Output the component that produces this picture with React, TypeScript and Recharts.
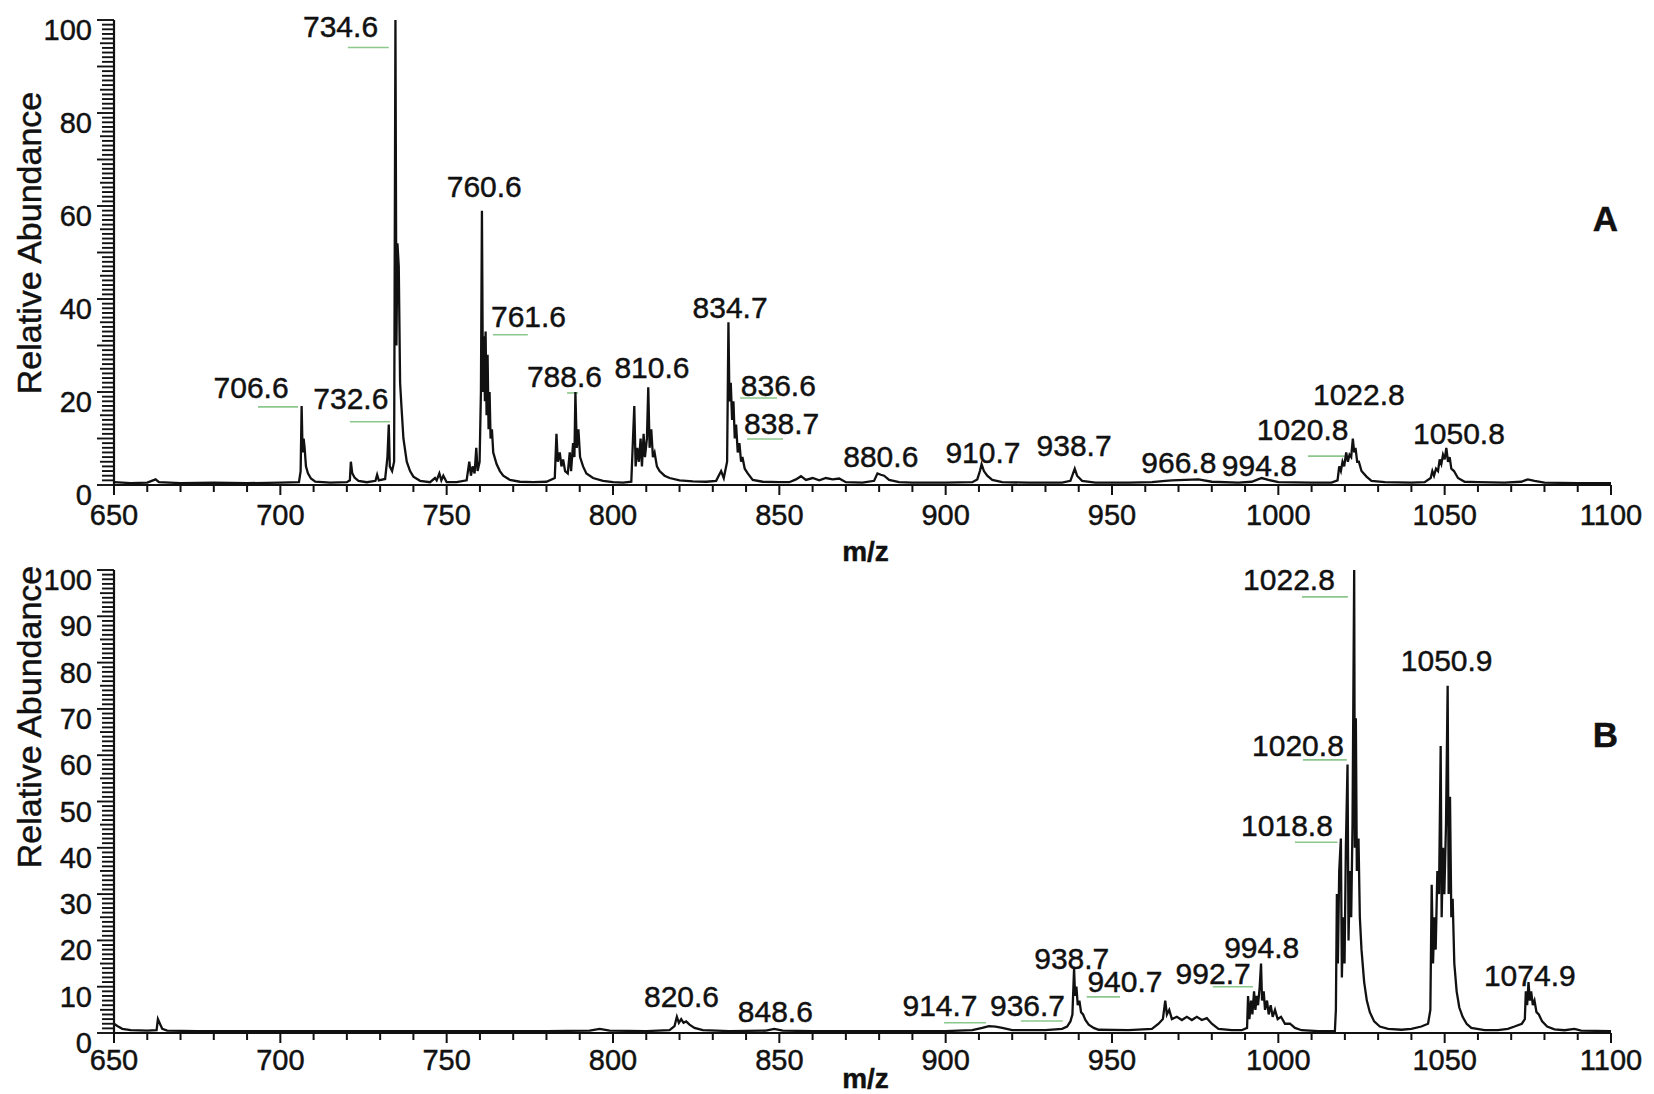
import React from "react";
import { LineChart, Line, XAxis, YAxis, ReferenceDot, ReferenceLine } from "recharts";

const FONT = '"Liberation Sans", Arial, Helvetica, sans-serif';
const INK = "#111";
const LEAD = "#8cc88c";

// profile spectrum, panel A: [m/z, relative abundance]
const spectrumA: [number, number][] = [
  [650, 0.6], [655, 0.4], [660, 0.5], [662.5, 1.2], [663.5, 0.6], [670, 0.4], [680, 0.5], [690, 0.4], [700, 0.5], [705.6, 0.6],
  [706.1, 3], [706.4, 17], [706.7, 7], [707.0, 10], [707.3, 8], [707.7, 4], [708.3, 2.5], [709.2, 1.4], [710.5, 0.7], [715, 0.5], [720, 0.6],
  [720.9, 1], [721.2, 5], [721.6, 2.6], [722.3, 1.6], [723.5, 0.9], [726, 0.6], [728.6, 0.9], [729.1, 2.2], [729.6, 1], [731.5, 1.3],
  [732.2, 6], [732.6, 13], [732.9, 4], [733.6, 3], [734.2, 5], [734.6, 100], [734.9, 30], [735.2, 52], [735.6, 47], [736, 22], [736.4, 17],
  [737, 10], [738, 5], [739, 3], [740, 1.8], [742, 0.9], [745, 0.6], [746.5, 1.5], [747, 1], [747.8, 2.5], [748.4, 1], [749, 2], [750, 0.6],
  [753, 0.6], [756, 1], [756.8, 5], [757.3, 2], [757.8, 4], [758.4, 2.5], [758.9, 8], [759.3, 3], [759.9, 5],
  [760.3, 20], [760.6, 59], [760.9, 20], [761.2, 32], [761.5, 18], [761.7, 33], [762, 15], [762.3, 28], [762.6, 12], [762.9, 20],
  [763.2, 10], [763.6, 12], [764, 7], [765, 4.5], [766, 3], [767, 2], [769, 1.1], [772, 0.7], [776, 0.6], [780, 0.7], [782.5, 1.5],
  [783, 11], [783.4, 5], [784, 7], [784.5, 4], [785, 5.5], [785.6, 3], [786.4, 2.5], [787, 7], [787.4, 3], [788, 9], [788.4, 6],
  [788.7, 20], [789.1, 8], [789.6, 12], [790.1, 6], [791, 4], [792, 2.5], [794, 1.5], [797, 0.9], [800, 0.6], [803, 0.5], [805.5, 0.7],
  [806.4, 17], [806.8, 4], [807.3, 8], [807.8, 5], [808.3, 10], [808.7, 4], [809.2, 11], [809.6, 6], [810.2, 10], [810.6, 21],
  [811, 8], [811.5, 12], [812, 6], [812.5, 7], [813.2, 4], [814, 3], [815.5, 2], [817, 1.5], [820, 1], [824, 0.8], [828, 0.7],
  [831, 0.9], [832.5, 3], [833.3, 1.5], [834.3, 5], [834.7, 35], [835, 18], [835.4, 22], [835.8, 14], [836.2, 18], [836.6, 10],
  [837, 13], [837.5, 7], [838, 9], [838.5, 5], [838.9, 6], [839.6, 3.5], [840.5, 2.5], [842, 1.1], [845, 0.7], [850, 0.6], [853, 0.6],
  [855, 1.2], [856.5, 1.9], [858, 1.1], [860, 1.5], [862, 1], [864, 1.5], [866, 1.2], [868, 1.4], [870, 0.6], [875, 0.5],
  [878.5, 0.9], [879.5, 2.5], [880.5, 2.2], [881.5, 2], [883, 1.1], [886, 0.6], [890, 0.5], [900, 0.5], [908, 0.6], [909.5, 1.2],
  [910.3, 3], [910.8, 4.5], [911.5, 3], [912.5, 2], [914, 1.1], [917, 0.6], [925, 0.5], [935, 0.5], [937.5, 0.9], [938.3, 2.5],
  [938.8, 3.5], [939.5, 2], [941, 0.9], [945, 0.5], [955, 0.5], [962, 0.6], [966, 0.9], [968, 1], [972, 1.1], [976, 1.2], [980, 0.7],
  [988, 0.5], [992, 0.7], [993.5, 1.1], [995, 1.5], [997, 1.1], [1000, 0.6], [1010, 0.5], [1016, 0.5],
  [1017.8, 1], [1018.3, 4], [1018.8, 3], [1019.3, 5], [1019.8, 4], [1020.4, 7], [1020.9, 5], [1021.4, 6.5], [1021.9, 6],
  [1022.4, 10], [1022.8, 7], [1023.2, 8], [1023.7, 5], [1024.2, 5], [1025, 3], [1026.5, 1.8], [1028, 0.9], [1032, 0.6], [1040, 0.5],
  [1044, 0.6], [1045.8, 1.5], [1046.3, 3], [1046.8, 2], [1047.4, 3.5], [1048, 3], [1048.5, 5.5], [1049, 4.5], [1049.5, 6.5],
  [1050, 5.5], [1050.5, 8], [1051, 5], [1051.5, 6], [1052, 3.5], [1052.8, 3], [1054, 1.5], [1056, 0.7], [1060, 0.6], [1068, 0.5],
  [1073, 0.7], [1075, 1.2], [1077, 0.9], [1080, 0.5], [1090, 0.4], [1100, 0.4],
];

// profile spectrum, panel B
const spectrumB: [number, number][] = [
  [650, 2], [651, 1.5], [652.5, 0.9], [655, 0.6], [660, 0.5], [662.8, 0.6], [663.2, 3], [663.8, 2], [664.5, 0.9], [666, 0.5],
  [675, 0.4], [690, 0.4], [700, 0.4], [720, 0.4], [740, 0.4], [760, 0.4], [780, 0.4], [793, 0.5], [796, 0.9], [799, 0.5], [810, 0.4],
  [817, 0.6], [818.5, 1.5], [819.2, 3.5], [819.8, 2.2], [820.5, 3], [821.2, 2.2], [822, 2.5], [823, 1.8], [824.5, 1.1], [827, 0.6],
  [835, 0.4], [846, 0.5], [848.5, 0.9], [851, 0.5], [860, 0.4], [880, 0.4], [900, 0.4], [908, 0.6], [911, 1.1], [913, 1.5], [915, 1.4],
  [917, 1.1], [920, 0.6], [930, 0.6], [935, 0.9], [936.5, 1.4], [937.5, 2.5], [938.1, 4], [938.6, 14], [938.9, 8], [939.3, 10],
  [939.7, 6], [940.2, 7], [940.7, 4.5], [941.3, 4], [942, 2.8], [943, 1.8], [944.5, 1.1], [946, 0.7], [955, 0.6], [962, 0.9],
  [964, 2], [965.3, 3], [966, 7], [966.5, 4], [967.2, 5], [968, 3], [969.5, 3.5], [971, 2.8], [972.5, 3.5], [974, 2.8],
  [975.5, 3.5], [977, 2.8], [978.5, 3.2], [980, 2], [982, 0.9], [986, 0.6], [989, 0.6], [990.6, 1.1], [990.9, 8], [991.3, 3],
  [991.8, 7], [992.2, 4], [992.7, 9], [993.1, 5], [993.5, 8], [993.9, 6], [994.4, 10], [994.8, 15], [995.1, 7], [995.6, 9],
  [996, 5], [996.6, 7], [997.1, 4], [997.7, 6], [998.3, 3.5], [999, 5], [999.8, 3], [1000.8, 3.5], [1002, 2], [1003.5, 2],
  [1005, 1.1], [1007, 0.6], [1012, 0.4], [1017, 0.4],
  [1017.3, 5], [1017.6, 30], [1017.9, 15], [1018.3, 35], [1018.8, 42], [1019.1, 12], [1019.5, 25], [1019.9, 15], [1020.3, 40],
  [1020.8, 58], [1021.1, 20], [1021.5, 35], [1021.9, 25], [1022.3, 45], [1022.8, 100], [1023, 40], [1023.3, 68], [1023.6, 35],
  [1024.1, 42], [1024.5, 25], [1025, 18], [1025.8, 11], [1026.6, 7], [1027.5, 4.5], [1028.8, 2.5], [1030.5, 1.4], [1033, 0.9],
  [1037, 0.7], [1040, 0.9], [1043, 1.4], [1045, 2],
  [1045.7, 5], [1046.1, 32], [1046.5, 15], [1046.9, 25], [1047.3, 18], [1047.8, 35], [1048.3, 30], [1048.8, 62], [1049.1, 25],
  [1049.5, 40], [1049.9, 30], [1050.4, 45], [1050.9, 75], [1051.2, 30], [1051.6, 51], [1052, 25], [1052.4, 29], [1052.9, 15],
  [1053.6, 9], [1054.4, 5.5], [1055.4, 3.5], [1056.6, 2], [1058, 1.1], [1062, 0.6], [1066, 0.6], [1069, 0.9], [1071, 1.4],
  [1073.2, 2], [1074.1, 3], [1074.4, 9], [1074.8, 6], [1075.2, 11], [1075.6, 7], [1076, 9], [1076.5, 6], [1077, 7], [1077.6, 4.5],
  [1078.3, 4], [1079.3, 2.5], [1080.8, 1.4], [1083, 0.8], [1086, 0.6], [1089, 0.9], [1091, 0.5], [1100, 0.4],
];

// peak annotations: [text, m/z of text centre, abundance of text centre]
const peaksA: [string, number, number][] = [
  ["734.6", 718.1, 98.6], ["760.6", 761.3, 64.2], ["761.6", 774.6, 36.2], ["706.6", 691.2, 21.1], ["732.6", 721.2, 18.6],
  ["788.6", 785.4, 23.3], ["810.6", 811.7, 25.4], ["834.7", 835.2, 38.3], ["836.6", 849.7, 21.5], ["838.7", 850.7, 13.3],
  ["880.6", 880.5, 6.1], ["910.7", 911.2, 7.0], ["938.7", 938.6, 8.6], ["966.8", 970.1, 4.9], ["994.8", 994.3, 4.2],
  ["1020.8", 1007.3, 12.0], ["1022.8", 1024.2, 19.5], ["1050.8", 1054.3, 11.1],
];
const peaksB: [string, number, number][] = [
  ["1022.8", 1003.2, 98.1], ["1050.9", 1050.6, 80.6], ["1020.8", 1005.9, 62.2], ["1018.8", 1002.6, 44.9],
  ["1074.9", 1075.6, 12.5], ["938.7", 937.9, 16.1], ["940.7", 953.9, 11.1], ["992.7", 980.4, 12.9], ["994.8", 995.0, 18.6],
  ["936.7", 924.6, 6.0], ["914.7", 898.3, 6.0], ["820.6", 820.6, 8.0], ["848.6", 848.8, 4.8],
];

// green leader marks under labels: [m/z from, m/z to, abundance]
const leadsA: [number, number, number][] = [
  [720.3, 732.6, 94.1], [693.3, 705.3, 16.8], [720.9, 733.0, 13.6], [763.9, 774.4, 32.3], [786.2, 789.5, 19.8],
  [838.2, 849.3, 18.7], [840.3, 851.1, 9.9], [1008.9, 1020.0, 6.2],
];
const leadsB: [number, number, number][] = [
  [1007.1, 1020.9, 94.2], [1007.4, 1020.6, 59.0], [1005.0, 1017.8, 41.2], [899.5, 912.1, 2.2], [922.6, 935.2, 2.6],
  [942.4, 952.4, 7.8], [980.3, 992.4, 10.0],
];

const xTicks = Array.from({ length: 46 }, (_, i) => 650 + i * 10);
const yTicks = Array.from({ length: 101 }, (_, i) => i);

const textStyle = { fontFamily: FONT, fill: INK, stroke: INK, strokeWidth: 0.45 };

const makeXTick = (labelDy: number) => (props: any) => {
  const { x, y, payload } = props;
  const v = payload.value;
  const major = v % 50 === 0;
  return (
    <g>
      <line x1={x} x2={x} y1={y} y2={y + (major ? 10 : 7)} stroke={INK} strokeWidth={2} />
      {major && (
        <text x={x} y={y + labelDy} textAnchor="middle" fontSize={29} style={textStyle}>
          {v}
        </text>
      )}
    </g>
  );
};

const makeYTick = (step: number) => (props: any) => {
  const { x, y, payload } = props;
  const v = payload.value;
  const len = v % 10 === 0 ? 17 : v % 5 === 0 ? 14 : 12;
  return (
    <g>
      <line x1={x - len} x2={x} y1={y} y2={y} stroke={INK} strokeWidth={1.9} />
      {v % step === 0 && (
        <text x={x - 22} y={y + 20} textAnchor="end" fontSize={29} style={textStyle}>
          {v}
        </text>
      )}
    </g>
  );
};

const yTitle = (centerFromTop: number) => (props: any) => {
  const vb = props.viewBox;
  const cy = vb.y + centerFromTop;
  return (
    <text transform={`translate(${vb.x + 41},${cy}) rotate(-90)`} textAnchor="middle" fontSize={34} style={textStyle}>
      Relative Abundance
    </text>
  );
};

const xTitle = (baseline: number) => (props: any) => {
  const vb = props.viewBox;
  return (
    <text x={vb.x + vb.width / 2 + 3} y={vb.y + baseline} textAnchor="middle" fontSize={28} fontWeight="bold" style={textStyle}>
      m/z
    </text>
  );
};

const peakText = (text: string, size = 30, bold = false) => (p: any) => (
  <text x={p.cx} y={p.cy} dy="0.36em" textAnchor="middle" fontSize={size} fontWeight={bold ? "bold" : "normal"} style={textStyle}>
    {text}
  </text>
);

interface PanelProps {
  spectrum: [number, number][];
  peaks: [string, number, number][];
  leads: [number, number, number][];
  letter: string;
  letterY: number;
  yStep: number;
  height: number;
  top: number;
  plotTop: number;
  xAxisHeight: number;
  tickLabelDy: number;
  mzBaseline: number;
  titleCenter: number;
}

function Panel(p: PanelProps) {
  const data = p.spectrum.map(([mz, ab]) => ({ mz, ab }));
  return (
    <div style={{ position: "absolute", left: 0, top: p.top }}>
      <LineChart width={1654} height={p.height} data={data} margin={{ top: p.plotTop, right: 43, bottom: 0, left: 0 }}>
        <XAxis
          dataKey="mz"
          type="number"
          domain={[650, 1100]}
          ticks={xTicks}
          interval={0}
          height={p.xAxisHeight}
          tickSize={0}
          tickMargin={0}
          tickLine={false}
          axisLine={{ stroke: INK, strokeWidth: 2.2 }}
          tick={makeXTick(p.tickLabelDy)}
          label={{ content: xTitle(p.mzBaseline) }}
        />
        <YAxis
          type="number"
          domain={[0, 100]}
          ticks={yTicks}
          interval={0}
          width={114}
          tickSize={0}
          tickMargin={0}
          tickLine={false}
          axisLine={{ stroke: INK, strokeWidth: 2.2 }}
          tick={makeYTick(p.yStep)}
          label={{ content: yTitle(p.titleCenter) }}
        />
        {p.leads.map(([a, b, y], i) => (
          <ReferenceLine
            key={`l${i}`}
            segment={[{ x: a, y }, { x: b, y }]}
            stroke={LEAD}
            strokeWidth={1.6}
            ifOverflow="visible"
          />
        ))}
        <Line
          type="linear"
          dataKey="ab"
          stroke={INK}
          strokeWidth={2.3}
          dot={false}
          isAnimationActive={false}
        />
        {p.peaks.map(([t, x, y]) => (
          <ReferenceDot key={t} x={x} y={y} r={0} ifOverflow="visible" shape={peakText(t)} />
        ))}
        <ReferenceDot x={1098.3} y={p.letterY} r={0} ifOverflow="visible" shape={peakText(p.letter, 35, true)} />
      </LineChart>
    </div>
  );
}

export default function App() {
  return (
    <div style={{ position: "absolute", left: 0, top: 0, width: 1654, height: 1094, background: "#fff", overflow: "hidden" }}>
      <Panel
        spectrum={spectrumA}
        peaks={peaksA}
        leads={leadsA}
        letter="A"
        letterY={57.3}
        yStep={20}
        height={570}
        top={0}
        plotTop={20}
        xAxisHeight={85}
        tickLabelDy={40}
        mzBaseline={76}
        titleCenter={223}
      />
      <Panel
        spectrum={spectrumB}
        peaks={peaksB}
        leads={leadsB}
        letter="B"
        letterY={64.4}
        yStep={10}
        height={554}
        top={540}
        plotTop={30}
        xAxisHeight={61}
        tickLabelDy={37}
        mzBaseline={55}
        titleCenter={147}
      />
    </div>
  );
}
